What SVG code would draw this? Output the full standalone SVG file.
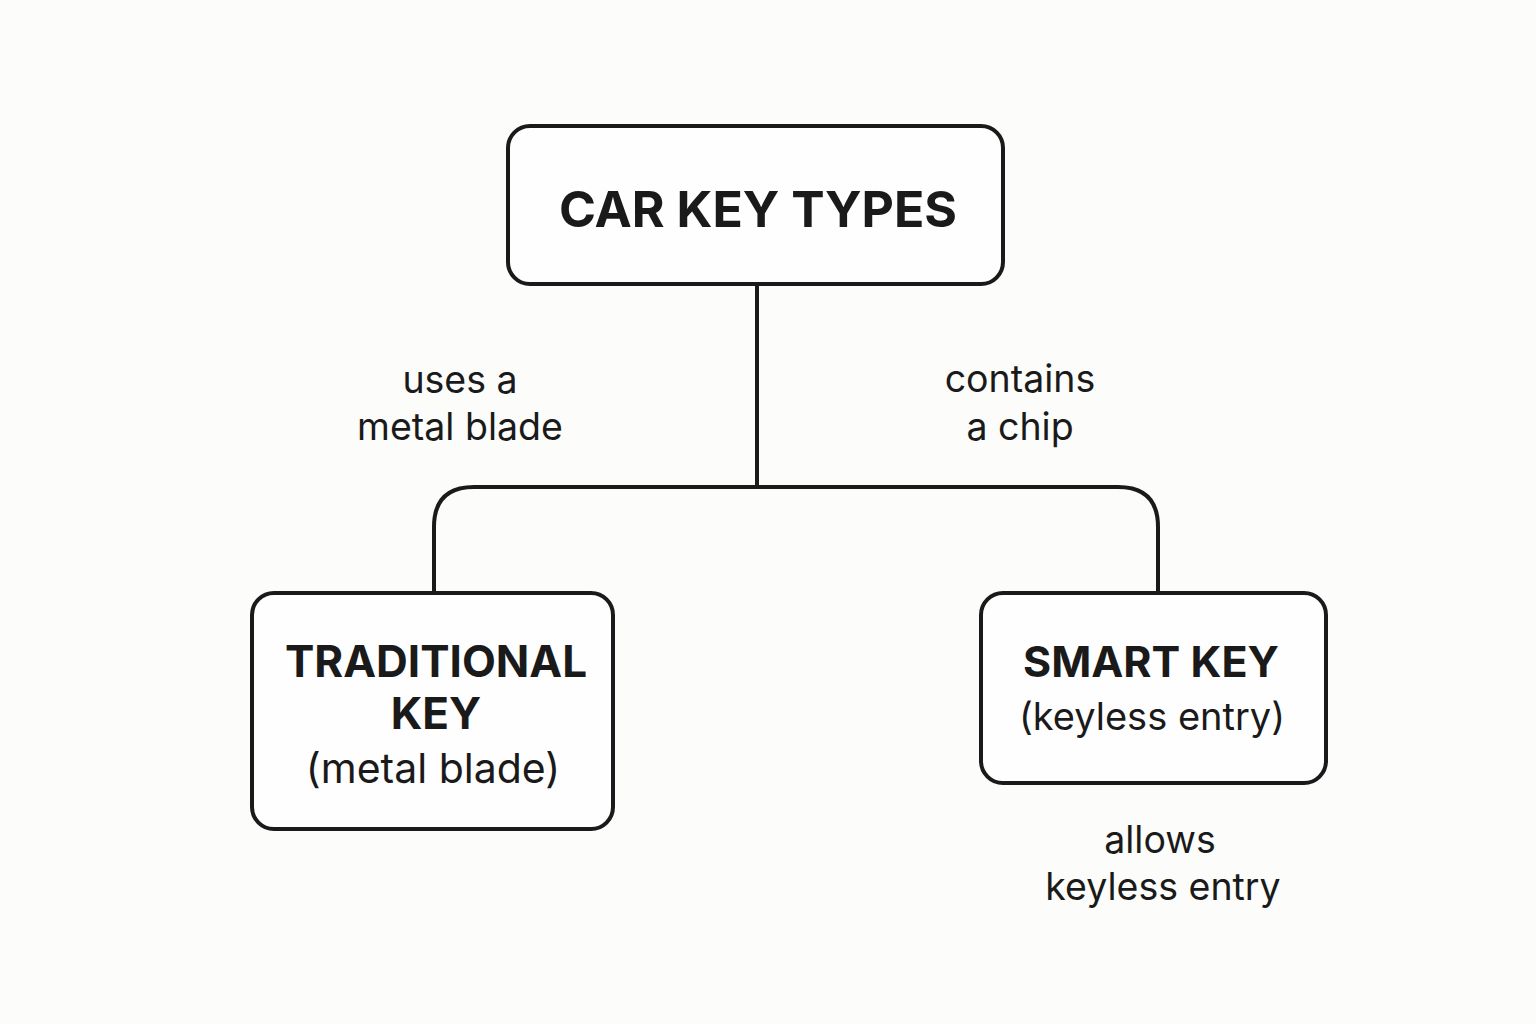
<svg xmlns="http://www.w3.org/2000/svg" width="1536" height="1024" viewBox="0 0 1536 1024">
<style>
.box{fill:#fefefe;stroke:#1a1a1a;stroke-width:4}
.conn{fill:none;stroke:#1a1a1a;stroke-width:4}
.title{font-family:Inter,"Liberation Sans",sans-serif;font-weight:700;fill:#1a1a1a;text-anchor:middle}
.sub{font-family:Inter,"Liberation Sans",sans-serif;font-weight:400;fill:#1a1a1a;text-anchor:middle}
.lbl{font-family:Inter,"Liberation Sans",sans-serif;font-weight:400;fill:#1a1a1a;text-anchor:middle;font-size:37.5px}
</style>
<rect width="1536" height="1024" fill="#fcfcfa"/>
<g id="connectors">
<path class="conn" d="M757 284 V487"/>
<path class="conn" d="M434 593 V527 Q434 487 474 487 H1118 Q1158 487 1158 527 V593"/>
</g>
<g id="car-key-types">
<rect class="box" x="508" y="126" width="495" height="158" rx="22"/>
<text class="title" x="758" y="227" font-size="50">CAR KEY TYPES</text>
</g>
<g id="traditional-key">
<rect class="box" x="252" y="593" width="361" height="236" rx="22"/>
<text class="title" x="436" y="677" font-size="44">TRADITIONAL</text>
<text class="title" x="436" y="729" font-size="44">KEY</text>
<text class="sub" x="433" y="783" font-size="41">(metal blade)</text>
</g>
<g id="smart-key">
<rect class="box" x="981" y="593" width="345" height="190" rx="22"/>
<text class="title" x="1151" y="677" font-size="43">SMART KEY</text>
<text class="sub" x="1152" y="730" font-size="38">(keyless entry)</text>
</g>
<g id="labels">
<text class="lbl" x="460" y="393">uses a</text>
<text class="lbl" x="460" y="440">metal blade</text>
<text class="lbl" x="1020" y="392">contains</text>
<text class="lbl" x="1020" y="440">a chip</text>
<text class="lbl" x="1160" y="853">allows</text>
<text class="lbl" x="1163" y="900">keyless entry</text>
</g>
</svg>
